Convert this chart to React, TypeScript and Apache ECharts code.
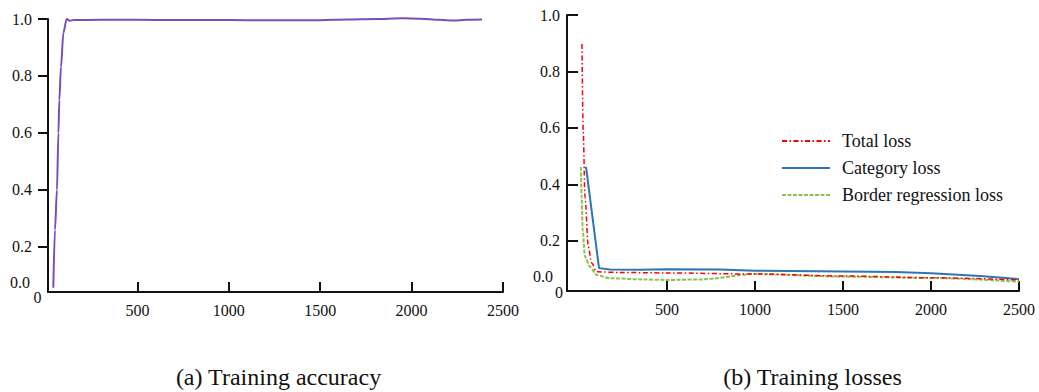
import React, { useEffect, useRef } from "react";
import * as echarts from "echarts";

// ---- Data ----
const accIter = [40, 49, 60, 68, 73, 82, 95, 113, 131, 150, 300, 500, 700, 900, 1100, 1300, 1500, 1650, 1800, 1950, 2050, 2150, 2230, 2300, 2385];
const accValue = [0.057, 0.26, 0.4, 0.6, 0.716, 0.832, 0.951, 1.0, 0.994, 0.9965, 0.997, 0.997, 0.9965, 0.9965, 0.996, 0.9955, 0.996, 0.998, 1.0, 1.0025, 1.001, 0.997, 0.995, 0.997, 0.998];

const totalIter = [17, 24, 34, 53, 72, 100, 230, 500, 1000, 1500, 2000, 2500];
const totalValue = [0.897, 0.593, 0.357, 0.18, 0.122, 0.091, 0.0885, 0.087, 0.083, 0.076, 0.07, 0.062];

const catIter = [40, 114, 176, 347, 500, 800, 1000, 1500, 1800, 2000, 2280, 2500];
const catValue = [0.462, 0.104, 0.099, 0.098, 0.1, 0.099, 0.095, 0.092, 0.09, 0.086, 0.076, 0.065];

const borderIter = [11, 15, 21, 34, 62, 100, 176, 364, 500, 690, 1000, 1500, 2000, 2500];
const borderValue = [0.462, 0.357, 0.239, 0.144, 0.109, 0.08, 0.068, 0.064, 0.062, 0.064, 0.083, 0.074, 0.069, 0.056];

const seriesNames = ["Total loss", "Category loss", "Border regression loss"];

const xTickValues = [500, 1000, 1500, 2000, 2500];
const yTickValues = [0.2, 0.4, 0.6, 0.8, 1.0];
const accYLabelValues = [0.074, 0.2, 0.4, 0.6, 0.8, 1.0];
const lossYLabelValues = [0.0726, 0.2, 0.4, 0.6, 0.8, 1.0];
const originLabel = "0";
const titles = ["(a) Training accuracy", "(b) Training losses"];

const zip = (xs: number[], ys: number[]) => xs.map((x, i) => [x, ys[i]]);

const font = "'Liberation Serif', 'Times New Roman', serif";
const ink = "#111111";

const yFmt = (v: number) => (v < 0.1 ? "{z|0.0}" : v.toFixed(1));

function makeXAxis(gridIndex: number, min: number) {
  return {
    type: "value",
    gridIndex,
    min,
    max: 2500,
    axisLine: { show: true, onZero: false, lineStyle: { color: ink, width: 2 } },
    axisTick: { show: true, inside: true, length: 10, customValues: xTickValues, lineStyle: { color: ink, width: 2 } },
    axisLabel: {
      show: true,
      customValues: xTickValues,
      margin: 10,
      color: ink,
      fontFamily: font,
      fontSize: 16,
      formatter: (v: number) => String(v),
    },
    splitLine: { show: false },
  };
}

function makeYAxis(gridIndex: number, min: number, inside: boolean, margin: number, labelValues: number[], zeroShift: number) {
  return {
    type: "value",
    gridIndex,
    min,
    max: 1,
    axisLine: { show: true, onZero: false, lineStyle: { color: ink, width: 2 } },
    axisTick: { show: true, inside, length: inside ? 11 : 10, customValues: yTickValues, lineStyle: { color: ink, width: 2 } },
    axisLabel: {
      show: true,
      customValues: labelValues,
      margin,
      color: ink,
      fontFamily: font,
      fontSize: 16,
      formatter: yFmt,
      rich: {
        z: { color: ink, fontFamily: font, fontSize: 16, padding: [0, zeroShift, 0, 0] },
      },
    },
    splitLine: { show: false },
  };
}

const option: any = {
  animation: false,
  backgroundColor: "#ffffff",
  grid: [
    { left: 48, top: 19, width: 455, height: 273, containLabel: false },
    { left: 567, top: 15, width: 452, height: 276, containLabel: false },
  ],
  xAxis: [makeXAxis(0, 11), makeXAxis(1, -68)],
  yAxis: [
    makeYAxis(0, 0.042, false, 16, accYLabelValues, 2),
    makeYAxis(1, 0.023, true, 7, lossYLabelValues, 7),
  ],
  legend: {
    orient: "vertical",
    left: 776,
    top: 127,
    itemWidth: 48,
    itemHeight: 14,
    itemGap: 9,
    data: seriesNames,
    itemStyle: { opacity: 0 },
    textStyle: { color: ink, fontFamily: font, fontSize: 18, lineHeight: 18, padding: [0, 0, 0, 7] },
  },
  series: [
    {
      type: "line",
      xAxisIndex: 0,
      yAxisIndex: 0,
      data: zip(accIter, accValue),
      symbol: "none",
      smooth: 0.3,
      smoothMonotone: "x",
      clip: false,
      lineStyle: { color: "#7b4db7", width: 2 },
    },
    {
      name: seriesNames[0],
      type: "line",
      xAxisIndex: 1,
      yAxisIndex: 1,
      data: zip(totalIter, totalValue),
      symbol: "none",
      smooth: 0.3,
      smoothMonotone: "x",
      clip: false,
      itemStyle: { color: "#ff0000" },
      lineStyle: { color: "#ff0000", width: 1.5, type: [5, 2.5, 1.5, 2.5] },
      z: 3,
    },
    {
      name: seriesNames[1],
      type: "line",
      xAxisIndex: 1,
      yAxisIndex: 1,
      data: zip(catIter, catValue),
      symbol: "none",
      smooth: false,
      clip: false,
      itemStyle: { color: "#2e75b6" },
      lineStyle: { color: "#2e75b6", width: 2 },
      z: 2,
    },
    {
      name: seriesNames[2],
      type: "line",
      xAxisIndex: 1,
      yAxisIndex: 1,
      data: zip(borderIter, borderValue),
      symbol: "none",
      smooth: 0.3,
      smoothMonotone: "x",
      clip: false,
      itemStyle: { color: "#8cc152" },
      lineStyle: { color: "#8cc152", width: 2, type: [4, 1.5] },
      z: 1,
    },
  ],
  graphic: [
    { type: "text", x: 37.5, y: 297, style: { text: originLabel, fontFamily: font, fontSize: 16, fill: ink, align: "center", verticalAlign: "middle" } },
    { type: "text", x: 559, y: 292, style: { text: originLabel, fontFamily: font, fontSize: 16, fill: ink, align: "center", verticalAlign: "middle" } },
    { type: "text", x: 278.5, y: 377, style: { text: titles[0], fontFamily: font, fontSize: 24, fill: ink, align: "center", verticalAlign: "middle" } },
    { type: "text", x: 812.5, y: 377, style: { text: titles[1], fontFamily: font, fontSize: 24, fill: ink, align: "center", verticalAlign: "middle" } },
  ],
};

export default function App() {
  const ref = useRef<HTMLDivElement>(null);
  useEffect(() => {
    if (!ref.current) return;
    const chart = echarts.init(ref.current, null, { renderer: "svg" });
    chart.setOption(option);
    return () => chart.dispose();
  }, []);
  return (
    <div
      ref={ref}
      style={{ position: "fixed", left: 0, top: 0, width: 1039, height: 392, background: "#ffffff" }}
    />
  );
}
